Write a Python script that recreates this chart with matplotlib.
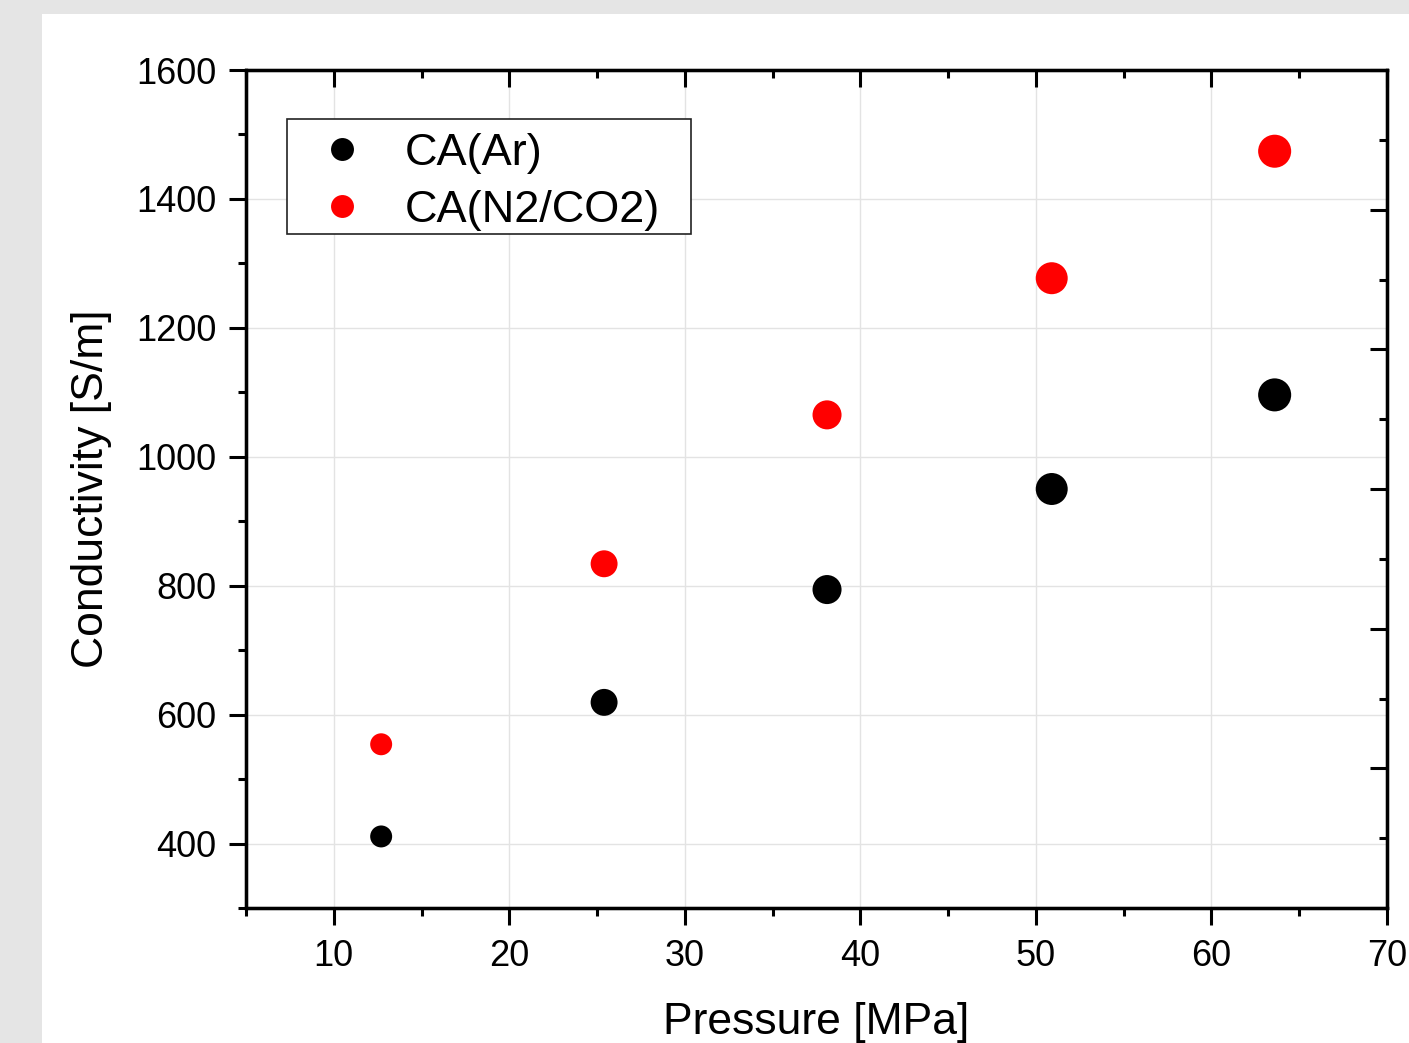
import matplotlib
matplotlib.use("Agg")
import matplotlib.pyplot as plt
from matplotlib.ticker import MultipleLocator, NullFormatter
from matplotlib.lines import Line2D
from matplotlib.patches import Rectangle

plt.rcParams['font.family'] = ['Liberation Sans', 'DejaVu Sans']

# Data
pressure = [12.7, 25.4, 38.1, 50.9, 63.6]
cond_ar = [411, 619, 794, 950, 1096]
cond_n2co2 = [554, 834, 1065, 1277, 1474]
series_labels = ['CA(Ar)', 'CA(N2/CO2)']
x_label = 'Pressure [MPa]'
y_label = 'Conductivity [S/m]'

# Style
marker_sizes = [250, 376, 437, 530, 566]
colors = ['black', '#ff0000']

fig = plt.figure(figsize=(14.09, 10.43), dpi=100)
fig.patch.set_facecolor('#e5e5e5')
fig.patches.append(Rectangle((42/1409, 0), 1 - 42/1409, 1 - 14/1043,
                             transform=fig.transFigure, facecolor='white',
                             edgecolor='none', zorder=-10))

ax = fig.add_axes([246/1409, 1 - 908/1043, (1387 - 246)/1409, (908 - 70)/1043])
ax.set_facecolor('white')

ax.scatter(pressure, cond_ar, s=marker_sizes, color=colors[0], zorder=3, linewidths=0)
ax.scatter(pressure, cond_n2co2, s=marker_sizes, color=colors[1], zorder=3, linewidths=0)

ax.set_xlim(5, 70)
ax.set_ylim(300, 1600)
ax.xaxis.set_major_locator(MultipleLocator(10))
ax.xaxis.set_minor_locator(MultipleLocator(5))
ax.yaxis.set_major_locator(MultipleLocator(200))
ax.yaxis.set_minor_locator(MultipleLocator(100))
ax.grid(True, which='major', color='#e3e3e3', linewidth=1.0, zorder=0)
ax.set_axisbelow(True)

for sp in ax.spines.values():
    sp.set_linewidth(2.3)
ax.tick_params(which='major', direction='out', length=12.5, width=2.2,
               labelsize=26, right=False, top=False)
ax.tick_params(axis='x', which='major', pad=10)
ax.tick_params(axis='y', which='major', pad=9)
ax.tick_params(which='minor', direction='out', length=6, width=2.2,
               right=False, top=False)

ax.set_xlabel(x_label, fontsize=32, labelpad=20)
ax.set_ylabel(y_label, fontsize=32, labelpad=17)

# Top axis (inward ticks, no labels)
axT = ax.twiny()
axT.set_xlim(ax.get_xlim())
axT.xaxis.set_major_locator(MultipleLocator(10))
axT.xaxis.set_minor_locator(MultipleLocator(5))
axT.tick_params(axis='x', which='major', direction='in', length=12.5, width=2.2,
                labeltop=False, top=True, bottom=False)
axT.tick_params(axis='x', which='minor', direction='in', length=6, width=2.2,
                top=True, bottom=False)
for sp in axT.spines.values():
    sp.set_linewidth(2.3)

# Right axis (inward ticks, independent scale, no labels)
axR = ax.twinx()
axR.set_ylim(0, 1200)
axR.yaxis.set_major_locator(MultipleLocator(200))
axR.yaxis.set_minor_locator(MultipleLocator(100))
axR.tick_params(axis='y', which='major', direction='in', length=12.5, width=2.2,
                labelright=False, right=True, left=False)
axR.tick_params(axis='y', which='minor', direction='in', length=6, width=2.2,
                right=True, left=False)
axR.yaxis.set_major_formatter(NullFormatter())
for sp in axR.spines.values():
    sp.set_linewidth(2.3)

# Legend frame (drawn separately so padding can match the reference)
axR.add_patch(Rectangle((0.0359, 0.8043), 0.3541, 0.1372, transform=axR.transAxes,
                        facecolor='white', edgecolor='#222222', linewidth=1.2,
                        zorder=4))
handles = [Line2D([], [], linestyle='none', marker='o', markersize=16.5,
                  markerfacecolor=c, markeredgewidth=0) for c in colors]
leg = axR.legend(handles, series_labels, loc='upper left',
                 bbox_to_anchor=(0.0644, 0.9249), fontsize=32.5, frameon=False,
                 handlelength=1.0, handletextpad=0.88, borderpad=0,
                 labelspacing=0.36, borderaxespad=0)
leg.set_zorder(5)

fig.savefig('out.png', dpi=100, facecolor=fig.get_facecolor())
